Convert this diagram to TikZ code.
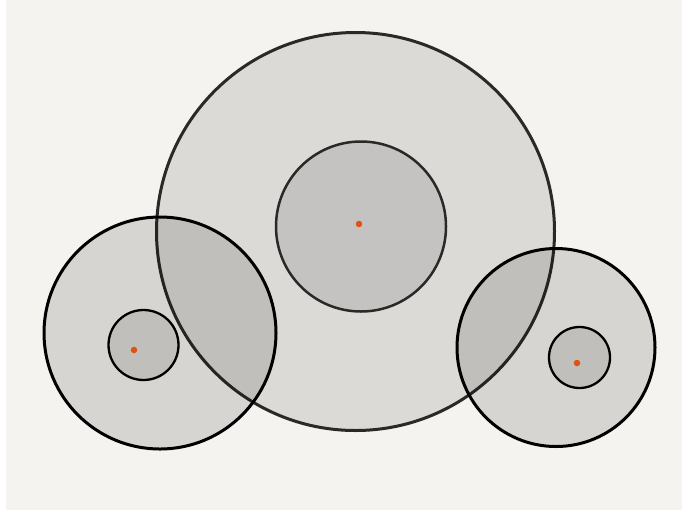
\documentclass[tikz,border=0pt]{standalone}
\usepackage{tikz}
\usetikzlibrary{positioning}

\definecolor{paper}{HTML}{F4F3F0}
\definecolor{rim}{HTML}{2A2927}
\definecolor{seed}{HTML}{E0520F}

\tikzset{
  disc/.style={circle,draw,inner sep=0pt,fill=black,fill opacity=0.1,draw opacity=1},
  pip/.style={circle,fill=seed,inner sep=0pt,minimum size=6.5pt}
}

\begin{document}
\begin{tikzpicture}[x=1pt,y=-1pt]
% canvas
\useasboundingbox (0,0) rectangle (682,515);
\fill[white] (0,0) rectangle (682,515);
\fill[paper] (6,0) rectangle (682,510);

% big cell with its core
\node[disc,draw=rim,line width=3pt,minimum size=398pt] (bigcell) at (355.5,231.5) {};
\node[disc,draw=rim,line width=2.5pt,minimum size=170pt] (bigcore) at (361,226.5) {};
\node[pip] (bigdot) at (359,224) {};

% two smaller cells, each with a core and a dot
\foreach \name/\cx/\cy/\r/\kx/\ky/\kr/\dx/\dy in {%
  left/160/333/116/143.5/345/35/134/350,
  right/556/347.5/99/579.5/357.5/30.5/577/363} {
  \node[disc,draw=black,line width=3pt,fill opacity=0.12,minimum size=2*\r pt] (\name cell) at (\cx,\cy) {};
  \node[disc,draw=black,line width=2.3pt,minimum size=2*\kr pt] (\name core) at (\kx,\ky) {};
  \node[pip] (\name dot) at (\dx,\dy) {};
}
\end{tikzpicture}
\end{document}
